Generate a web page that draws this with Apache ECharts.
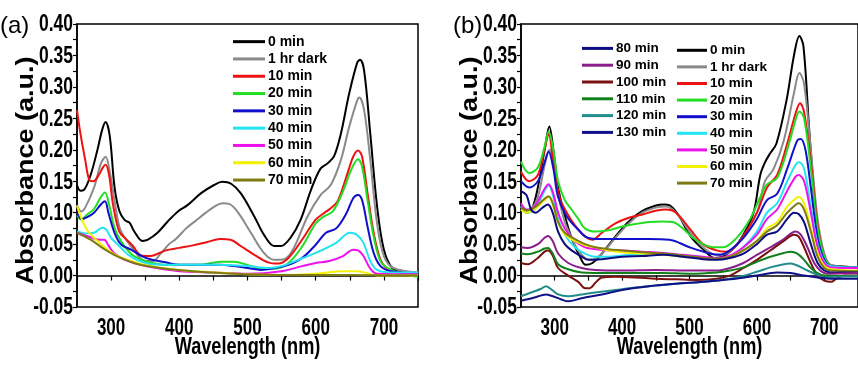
<!DOCTYPE html>
<html><head><meta charset="utf-8">
<script src="https://cdn.jsdelivr.net/npm/echarts@6/dist/echarts.min.js"></script>
<style>html,body{margin:0;padding:0;background:#fff}#c{width:858px;height:365px}</style>
</head><body><div id="c"></div>
<script>
// ---------- Panel (a) data: [wavelength nm, absorbance] ----------
const a_0min = [[250,0.144],[255,0.135],[260,0.136],[270,0.16],[280,0.2],[287,0.232],[292,0.244],[298,0.222],[305,0.141],[312,0.103],[320,0.088],[327,0.084],[334,0.07],[346,0.055],[354,0.057],[368,0.068],[383,0.086],[398,0.102],[412,0.112],[432,0.131],[451,0.144],[463,0.149],[476,0.146],[490,0.131],[510,0.094],[524,0.065],[539,0.047],[549,0.047],[563,0.06],[578,0.089],[593,0.136],[607,0.17],[617,0.178],[627,0.19],[637,0.226],[649,0.289],[661,0.339],[665,0.343],[671,0.326],[680,0.226],[690,0.11],[700,0.041],[712,0.012],[724,0.007],[750,0.004]];
const a_1hr = [[250,0.112],[256,0.102],[262,0.108],[275,0.14],[285,0.178],[292,0.189],[298,0.165],[305,0.12],[312,0.078],[320,0.06],[332,0.043],[346,0.025],[361,0.023],[372,0.034],[385,0.05],[395,0.058],[410,0.075],[425,0.088],[439,0.1],[452,0.11],[463,0.115],[473,0.114],[485,0.102],[505,0.068],[524,0.036],[539,0.025],[554,0.026],[568,0.044],[588,0.094],[607,0.128],[622,0.144],[637,0.184],[649,0.236],[661,0.279],[664,0.283],[671,0.263],[680,0.184],[690,0.083],[700,0.031],[714,0.012],[750,0.005]];
const a_10min = [[250,0.263],[255,0.226],[262,0.184],[268,0.152],[274,0.15],[282,0.16],[288,0.172],[292,0.176],[297,0.16],[303,0.112],[312,0.07],[322,0.058],[332,0.047],[342,0.033],[352,0.031],[362,0.032],[380,0.04],[400,0.044],[420,0.048],[440,0.053],[460,0.058],[475,0.057],[490,0.047],[510,0.033],[530,0.021],[545,0.019],[560,0.028],[580,0.057],[600,0.089],[612,0.099],[622,0.107],[632,0.118],[645,0.157],[655,0.189],[662,0.199],[668,0.189],[676,0.131],[685,0.068],[695,0.025],[705,0.011],[720,0.005],[750,0.003]];
const a_20min = [[250,0.096],[256,0.089],[265,0.097],[275,0.106],[285,0.125],[291,0.132],[297,0.113],[305,0.076],[315,0.054],[330,0.034],[345,0.025],[360,0.02],[380,0.017],[400,0.017],[430,0.017],[460,0.022],[480,0.022],[500,0.017],[520,0.011],[540,0.011],[560,0.02],[580,0.046],[600,0.083],[612,0.094],[625,0.102],[640,0.134],[652,0.168],[662,0.185],[668,0.173],[676,0.12],[685,0.062],[695,0.023],[710,0.009],[730,0.002],[750,-0.002]];
const a_30min = [[250,0.1],[257,0.09],[265,0.093],[275,0.1],[285,0.113],[291,0.118],[296,0.1],[305,0.068],[315,0.049],[330,0.041],[345,0.031],[360,0.025],[380,0.021],[400,0.017],[430,0.017],[460,0.017],[480,0.015],[500,0.012],[520,0.009],[540,0.012],[560,0.017],[580,0.028],[600,0.049],[615,0.068],[630,0.075],[645,0.099],[655,0.123],[662,0.128],[668,0.12],[676,0.078],[685,0.036],[695,0.015],[710,0.007],[750,0.003]];
const a_40min = [[250,0.07],[262,0.067],[275,0.068],[287,0.076],[293,0.073],[300,0.06],[312,0.047],[325,0.033],[340,0.024],[360,0.018],[400,0.017],[450,0.017],[500,0.015],[530,0.012],[550,0.015],[570,0.023],[600,0.036],[630,0.052],[650,0.068],[660,0.065],[670,0.052],[680,0.023],[690,0.009],[710,0.005],[750,0.005]];
const a_50min = [[250,0.068],[270,0.061],[282,0.057],[290,0.057],[296,0.048],[305,0.035],[320,0.025],[350,0.015],[400,0.007],[450,0.005],[500,0.003],[550,0.007],[580,0.015],[600,0.02],[620,0.023],[640,0.031],[655,0.041],[662,0.04],[670,0.031],[680,0.011],[690,0.003],[750,0.002]];
const a_60min = [[250,0.111],[255,0.095],[262,0.078],[268,0.068],[280,0.055],[295,0.041],[310,0.031],[350,0.017],[400,0.009],[450,0.005],[500,0.002],[550,0.001],[600,0.003],[640,0.007],[660,0.007],[675,0.004],[690,0.0],[750,0.0]];
const a_70min = [[250,0.068],[270,0.057],[290,0.042],[310,0.03],[340,0.018],[380,0.011],[420,0.007],[460,0.004],[500,0.002],[550,0.001],[650,0.001],[750,0.0]];

// ---------- Panel (b) data ----------
const b_0min = [[250,0.11],[258,0.1],[266,0.105],[275,0.14],[285,0.2],[292,0.237],[298,0.2],[305,0.14],[315,0.095],[325,0.06],[337,0.031],[346,0.017],[356,0.02],[371,0.036],[390,0.062],[410,0.086],[429,0.102],[449,0.111],[462,0.113],[470,0.112],[483,0.097],[502,0.062],[522,0.04],[537,0.028],[551,0.031],[566,0.044],[580,0.065],[595,0.1],[605,0.16],[612,0.18],[620,0.195],[629,0.21],[644,0.279],[655,0.35],[663,0.381],[669,0.365],[678,0.226],[688,0.099],[698,0.036],[707,0.017],[722,0.015],[750,0.013]];
const b_1hr = [[250,0.11],[258,0.102],[265,0.105],[275,0.125],[285,0.175],[292,0.2],[298,0.18],[305,0.13],[315,0.085],[325,0.06],[335,0.04],[345,0.028],[355,0.025],[370,0.035],[390,0.06],[410,0.083],[430,0.1],[450,0.108],[465,0.11],[480,0.1],[500,0.07],[520,0.045],[540,0.033],[555,0.035],[575,0.055],[600,0.1],[612,0.15],[625,0.17],[640,0.215],[655,0.29],[663,0.322],[670,0.305],[680,0.2],[690,0.09],[700,0.035],[710,0.017],[750,0.013]];
const b_10min = [[250,0.165],[262,0.15],[275,0.16],[285,0.2],[291,0.225],[298,0.18],[307,0.125],[318,0.1],[330,0.08],[345,0.062],[356,0.057],[370,0.068],[390,0.083],[410,0.092],[430,0.097],[450,0.103],[465,0.105],[480,0.1],[500,0.075],[520,0.05],[540,0.04],[555,0.038],[575,0.055],[600,0.1],[615,0.14],[630,0.16],[645,0.21],[658,0.26],[664,0.274],[670,0.26],[680,0.18],[690,0.08],[700,0.03],[710,0.015],[750,0.013]];
const b_20min = [[250,0.181],[262,0.163],[275,0.172],[285,0.205],[291,0.229],[298,0.2],[305,0.15],[315,0.12],[325,0.105],[335,0.09],[345,0.075],[360,0.07],[380,0.072],[400,0.078],[420,0.082],[440,0.085],[460,0.086],[475,0.085],[490,0.075],[505,0.06],[520,0.05],[535,0.045],[550,0.045],[570,0.06],[590,0.09],[605,0.125],[615,0.145],[630,0.155],[645,0.2],[658,0.25],[663,0.261],[670,0.25],[680,0.17],[690,0.075],[700,0.03],[710,0.015],[750,0.013]];
const b_30min = [[250,0.15],[262,0.14],[275,0.15],[285,0.18],[291,0.197],[298,0.17],[305,0.125],[318,0.094],[334,0.074],[349,0.06],[368,0.058],[400,0.058],[440,0.058],[470,0.057],[500,0.045],[530,0.035],[545,0.033],[560,0.04],[580,0.06],[600,0.09],[615,0.12],[630,0.13],[645,0.17],[660,0.215],[665,0.217],[672,0.2],[680,0.14],[690,0.06],[700,0.025],[710,0.015],[750,0.013]];
const b_40min = [[250,0.11],[258,0.1],[270,0.105],[285,0.135],[291,0.143],[298,0.125],[305,0.09],[315,0.065],[330,0.045],[345,0.035],[360,0.03],[380,0.03],[400,0.032],[430,0.034],[460,0.035],[490,0.032],[520,0.028],[540,0.026],[560,0.03],[580,0.045],[600,0.07],[615,0.1],[630,0.115],[645,0.15],[658,0.177],[663,0.18],[670,0.17],[680,0.11],[690,0.05],[700,0.022],[710,0.015],[750,0.013]];
const b_50min = [[250,0.115],[258,0.105],[270,0.11],[285,0.138],[291,0.145],[298,0.13],[305,0.1],[315,0.075],[330,0.055],[345,0.045],[360,0.042],[380,0.04],[400,0.04],[430,0.038],[460,0.036],[490,0.033],[520,0.03],[540,0.028],[560,0.032],[580,0.045],[600,0.065],[615,0.09],[630,0.105],[645,0.135],[658,0.158],[662,0.16],[670,0.15],[680,0.1],[690,0.045],[700,0.02],[710,0.013],[750,0.012]];
const b_60min = [[250,0.105],[258,0.1],[270,0.105],[285,0.12],[291,0.125],[298,0.11],[305,0.085],[315,0.065],[330,0.055],[345,0.048],[360,0.045],[380,0.04],[400,0.037],[430,0.035],[460,0.033],[490,0.03],[520,0.027],[540,0.026],[560,0.03],[580,0.04],[600,0.055],[615,0.075],[630,0.085],[645,0.11],[658,0.123],[662,0.125],[670,0.115],[680,0.075],[690,0.035],[700,0.015],[710,0.01],[750,0.008]];
const b_70min = [[250,0.108],[258,0.104],[270,0.108],[285,0.122],[291,0.126],[298,0.112],[305,0.085],[315,0.068],[330,0.058],[345,0.05],[360,0.045],[380,0.042],[400,0.04],[430,0.037],[460,0.035],[490,0.032],[520,0.028],[540,0.027],[560,0.03],[580,0.04],[600,0.055],[615,0.07],[630,0.08],[645,0.1],[658,0.113],[662,0.115],[670,0.105],[680,0.07],[690,0.03],[700,0.012],[710,0.008],[750,0.007]];
const b_80min = [[250,0.134],[258,0.128],[265,0.105],[272,0.1],[282,0.108],[290,0.113],[297,0.1],[305,0.07],[315,0.05],[325,0.04],[340,0.03],[350,0.025],[370,0.026],[400,0.03],[430,0.031],[460,0.033],[490,0.03],[520,0.026],[540,0.025],[560,0.028],[580,0.035],[600,0.05],[615,0.065],[630,0.07],[645,0.09],[655,0.1],[662,0.098],[670,0.085],[680,0.05],[690,0.02],[700,0.008],[710,0.005],[750,0.005]];
const b_90min = [[250,0.045],[260,0.044],[275,0.05],[285,0.06],[290,0.063],[297,0.055],[305,0.035],[320,0.02],[340,0.012],[360,0.009],[400,0.008],[450,0.009],[500,0.008],[540,0.008],[560,0.012],[580,0.02],[600,0.033],[620,0.045],[640,0.058],[652,0.068],[658,0.07],[665,0.065],[675,0.045],[685,0.02],[695,0.007],[705,0.003],[750,0.004]];
const b_100min = [[250,0.02],[260,0.018],[275,0.028],[285,0.038],[290,0.04],[297,0.032],[305,0.012],[320,0.0],[335,-0.01],[345,-0.02],[352,-0.02],[360,-0.012],[370,-0.003],[390,-0.002],[420,-0.003],[450,-0.005],[480,-0.006],[510,-0.007],[540,-0.005],[560,0.0],[580,0.012],[600,0.025],[620,0.04],[640,0.055],[655,0.065],[662,0.062],[670,0.045],[680,0.02],[690,0.0],[700,-0.008],[710,-0.01],[718,-0.005],[730,0.0],[750,0.0]];
const b_110min = [[250,0.035],[260,0.034],[275,0.038],[285,0.043],[290,0.044],[297,0.035],[305,0.018],[320,0.01],[340,0.005],[380,0.004],[420,0.004],[460,0.004],[500,0.003],[540,0.005],[560,0.008],[580,0.013],[600,0.022],[620,0.03],[640,0.036],[650,0.038],[660,0.035],[670,0.025],[680,0.012],[690,0.004],[700,0.0],[750,-0.001]];
const b_120min = [[250,-0.033],[265,-0.027],[280,-0.021],[287,-0.017],[295,-0.022],[305,-0.03],[320,-0.033],[340,-0.03],[360,-0.027],[390,-0.023],[420,-0.019],[450,-0.016],[480,-0.013],[510,-0.011],[540,-0.008],[570,-0.003],[600,0.006],[620,0.013],[640,0.018],[650,0.019],[660,0.016],[675,0.008],[690,0.001],[700,-0.003],[720,-0.002],[750,-0.001]];
const b_130min = [[250,-0.04],[270,-0.035],[287,-0.03],[295,-0.032],[310,-0.038],[320,-0.041],[340,-0.036],[370,-0.03],[400,-0.023],[440,-0.017],[480,-0.013],[520,-0.01],[560,-0.006],[600,0.0],[630,0.005],[650,0.004],[670,0.0],[690,-0.003],[710,-0.005],[750,-0.005]];

const namesA = ['0 min','1 hr dark','10 min','20 min','30 min','40 min','50 min','60 min','70 min'];
const namesB1 = ['80 min','90 min','100 min','110 min','120 min','130 min'];
const colorsA = ['#000000','#8a8a8a','#ee1111','#22dd22','#1010cc','#22e4f2','#ee11ee','#f2f200','#7d7a12'];
const colorsB1 = ['#0c0c80','#8a1e8a','#7a1010','#12801a','#228c8c','#101088'];
const dataA = [a_0min,a_1hr,a_10min,a_20min,a_30min,a_40min,a_50min,a_60min,a_70min];
const dataB = [b_0min,b_1hr,b_10min,b_20min,b_30min,b_40min,b_50min,b_60min,b_70min,b_80min,b_90min,b_100min,b_110min,b_120min,b_130min];
const xTicks = [300,400,500,600,700];
const yTicks = [-0.05,0,0.05,0.10,0.15,0.20,0.25,0.30,0.35,0.40];
const panelTags = ['(a)','(b)'];
const xTitle = 'Wavelength (nm)';
const yTitle = 'Absorbance (a.u.)';

const TF = "'Liberation Sans',Arial,sans-serif";
const chart = echarts.init(document.getElementById('c'), null, {renderer:'canvas'});

function mkX(i){
  return {type:'value', gridIndex:i, min:250, max:750, interval:50,
    axisLine:{lineStyle:{color:'#000',width:1.5}},
    axisTick:{length:5,lineStyle:{color:'#000',width:1.2}},
    axisLabel:{show:false}, splitLine:{show:false}};
}
function mkY(i){
  return {type:'value', gridIndex:i, min:-0.05, max:0.40, interval:0.05,
    axisLine:{show:true,lineStyle:{color:'#000',width:1.5}},
    axisTick:{show:true,length:4,lineStyle:{color:'#000',width:1.2}},
    minorTick:{show:true,splitNumber:2,length:4,lineStyle:{color:'#000',width:1.2}},
    axisLabel:{show:false}, splitLine:{show:false}};
}
const series = [];
dataA.forEach((d,k)=>series.push({name:namesA[k],type:'line',xAxisIndex:0,yAxisIndex:0,data:d,
  showSymbol:false,smooth:0.35,lineStyle:{width:2,color:colorsA[k]},itemStyle:{color:colorsA[k]}}));
const namesB = namesA.concat(namesB1), colorsB = colorsA.concat(colorsB1);
dataB.forEach((d,k)=>series.push({name:namesB[k],type:'line',xAxisIndex:1,yAxisIndex:1,data:d,
  showSymbol:false,smooth:0.35,lineStyle:{width:2,color:colorsB[k]},itemStyle:{color:colorsB[k]}}));

function leg(left,top,data,fs,lh,w){
  return {left:left,top:top,orient:'vertical',data:data,icon:'rect',itemWidth:w,itemHeight:3,itemGap:0,
    selectedMode:false,padding:0,
    textStyle:{color:'#000',fontSize:fs,lineHeight:lh,fontWeight:'bold',fontFamily:TF,padding:[0,0,0,-2]}};
}

chart.setOption({
  animation:false, backgroundColor:'#fff',
  grid:[{left:77,top:24,width:341,height:283,show:true,borderColor:'#000',borderWidth:1.5},
        {left:521,top:24,width:341,height:283,show:true,borderColor:'#000',borderWidth:1.5}],
  xAxis:[mkX(0),mkX(1)], yAxis:[mkY(0),mkY(1)],
  legend:[leg(233,33,namesA,14,17.3,32), leg(582,40,namesB1,13.5,16.8,31), leg(677,42,namesA,13.5,16.6,30)],
  series:series
});

// condensed text (tick labels, titles) placed through the axes' own scales
function txt(s,x,y,font,align,va,sx,extra){
  return Object.assign({type:'text',x:x,y:y,scaleX:sx,scaleY:1,silent:true,
    style:{text:s,font:font,fill:'#000',align:align,verticalAlign:va,textAlign:align,textVerticalAlign:va}},extra||{});
}
const g = [];
[0,1].forEach(i=>{
  const TL = "bold 23px "+TF;
  xTicks.forEach(v=>{
    const p = chart.convertToPixel({gridIndex:i},[v,-0.05]);
    g.push(txt(String(v),p[0],p[1]+22,TL,'center','middle',0.74));
  });
  yTicks.forEach(v=>{
    const p = chart.convertToPixel({gridIndex:i},[250,v]);
    g.push(txt(v.toFixed(2),p[0]-4,p[1]+1,TL,'right','middle',0.76));
  });
  const bl = chart.convertToPixel({gridIndex:i},[250,-0.05]);
  const tr = chart.convertToPixel({gridIndex:i},[750,0.40]);
  const cx = (bl[0]+tr[0])/2, cy = (bl[1]+tr[1])/2;
  g.push(txt(xTitle,cx,bl[1]+41,"bold 23px "+TF,'center','middle',0.79));
  g.push({type:'text',x:bl[0]-51,y:cy+5,rotation:Math.PI/2,scaleX:1,scaleY:0.9,silent:true,
    style:{text:yTitle,font:"bold 27px "+TF,fill:'#000',align:'center',verticalAlign:'middle',textAlign:'center',textVerticalAlign:'middle'}});
  g.push(txt(panelTags[i],bl[0]-(i?68:77),tr[1]+2,"24px "+TF,'left','middle',1.0));
});
chart.setOption({graphic:g});
</script></body></html>
